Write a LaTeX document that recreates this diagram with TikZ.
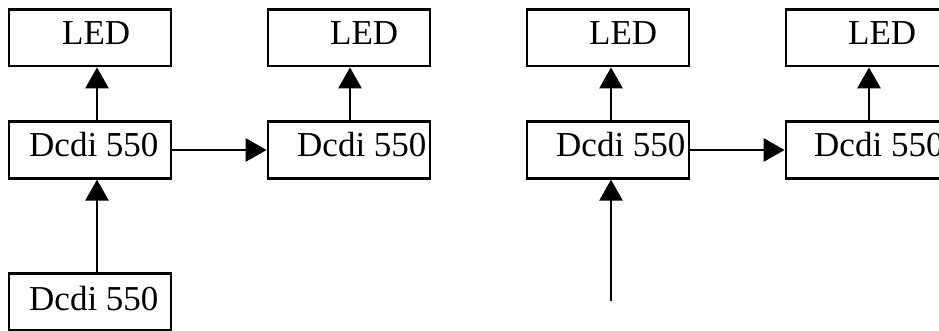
\documentclass[tikz,border=0pt]{standalone}
\usepackage{fontspec}
\setmainfont{Liberation Serif}
\usetikzlibrary{arrows.meta}
\begin{document}
\begin{tikzpicture}[x=1pt,y=-1pt,
  box/.style={draw,line width=2.8pt,minimum width=162pt,minimum height=56.5pt,inner sep=0pt},
  lbl/.style={anchor=base west,inner sep=0pt,font=\fontsize{35}{40}\selectfont},
  arr/.style={line width=2.7pt,-{Triangle[length=21pt,width=23pt]}}]
\useasboundingbox (0,0) rectangle (939,331);
\clip (0,0) rectangle (939,331);
% boxes
\node[box] (L1) at (90,37.75) {};
\node[box] (D1) at (90,150) {};
\node[box] (D0) at (90,302) {};
\node[box] (L2) at (349,37.75) {};
\node[box] (D2) at (349,150) {};
\node[box] (L3) at (608,37.75) {};
\node[box] (D3) at (608,150) {};
\node[box] (L4) at (867,37.75) {};
\node[box] (D4) at (867,150) {};
% texts
\node[lbl] (tL1) at (62,45) {LED};
\node[lbl] (tD1) at (29,157) {Dcdi 550};
\node[lbl] (tD0) at (29,310) {Dcdi 550};
\node[lbl] (tL2) at (330,45) {LED};
\node[lbl] (tD2) at (297,157) {Dcdi 550};
\node[lbl] (tL3) at (589,45) {LED};
\node[lbl] (tD3) at (556,157) {Dcdi 550};
\node[lbl] (tL4) at (848,45) {LED};
\node[lbl] (tD4) at (814,157) {Dcdi 550};
% connectors
\coordinate (in3) at (611,301);
\draw[arr] ([xshift=7pt]D1.north) -- ([xshift=7pt]L1.south);
\draw[arr] ([xshift=7pt]D0.north) -- ([xshift=7pt]D1.south);
\draw[arr] (D1.east) -- (D2.west);
\draw[arr] ([xshift=1pt]D2.north) -- ([xshift=1pt]L2.south);
\draw[arr] ([xshift=3pt]D3.north) -- ([xshift=3pt]L3.south);
\draw[arr] (in3) -- (in3 |- D3.south);
\draw[arr] (D3.east) -- (D4.west);
\draw[arr] ([xshift=2pt]D4.north) -- ([xshift=2pt]L4.south);
\end{tikzpicture}
\end{document}
